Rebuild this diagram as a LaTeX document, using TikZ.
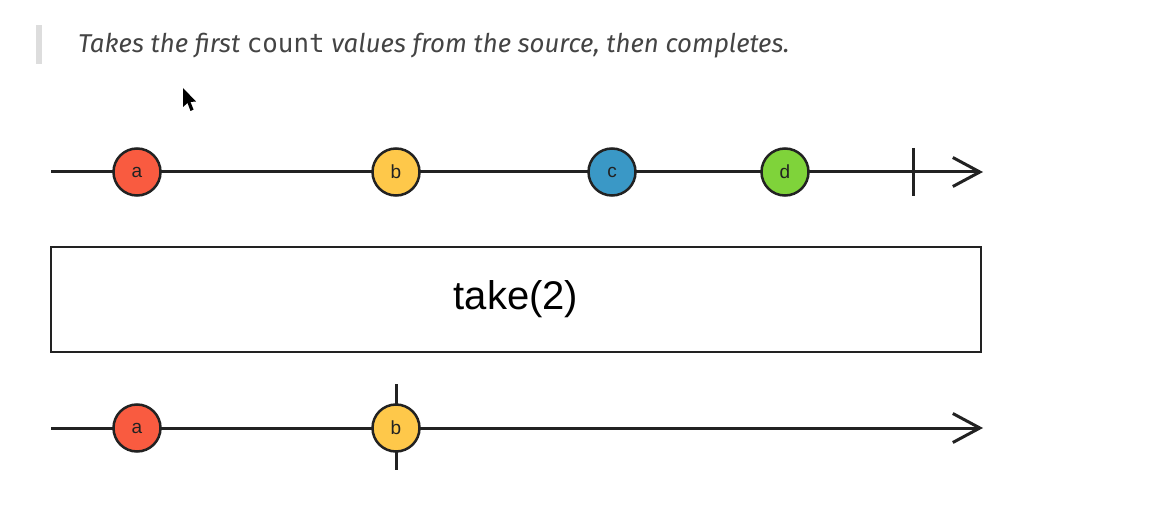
\documentclass[tikz,border=0pt]{standalone}
\usepackage{fontspec}
\setmainfont{Liberation Sans}
\newfontfamily\headfont{Fira Sans}
\newfontfamily\headmono{DejaVu Sans Mono}
\usetikzlibrary{arrows.meta}
\definecolor{cA}{HTML}{F95B40}
\definecolor{cB}{HTML}{FEC84A}
\definecolor{cC}{HTML}{3A98C6}
\definecolor{cD}{HTML}{7FD33A}
\definecolor{ink}{HTML}{222222}
\definecolor{headgrey}{HTML}{444444}
\definecolor{bargrey}{HTML}{DDDDDD}
\tikzset{
  marble/.style={circle, draw=ink, line width=2.5pt, minimum size=47pt, inner sep=0pt, font=\fontsize{19}{19}\selectfont, text=ink},
  timeline/.style={draw=ink, line width=3pt, -{Straight Barb[length=27pt,width=29pt,line width=3pt]}},
  tick/.style={draw=ink, line width=3pt},
  opbox/.style={draw=ink, line width=2.5pt, minimum width=930pt, minimum height=105pt, inner sep=0pt, font=\fontsize{40}{40}\selectfont, text=black},
}
\begin{document}
\begin{tikzpicture}[x=1pt,y=-1pt]
\useasboundingbox (0,0) rectangle (1166,505);
% header
\fill[bargrey] (36,25) rectangle (42,64);
\node[anchor=base west, inner sep=0pt, text=headgrey, font=\fontsize{25.8}{26}\selectfont\headfont\itshape] (head) at (78,53) {Takes the first {\headmono\upshape count} values from the source, then completes.};
% cursor
\fill[black] (183,88) -- (183,107) -- (187.5,103) -- (190.5,111) -- (193.5,109.5) -- (190.5,102) -- (196,101.5) -- cycle;
% top timeline
\coordinate (s1) at (51,172);
\coordinate (e1) at (983,172);
\draw[timeline] (s1) -- (e1);
\coordinate (t1a) at (913,148);
\coordinate (t1b) at (913,196);
\draw[tick] (t1a) -- (t1b);
\node[marble, fill=cA] (a1) at (137,172) {a};
\node[marble, fill=cB] (b1) at (396,172) {b};
\node[marble, fill=cC] (c1) at (612,172) {c};
\node[marble, fill=cD] (d1) at (785,172) {d};
% operator box
\node[opbox] (op) at (516,299.5) {take(2)};
% bottom timeline
\coordinate (s2) at (51,428);
\coordinate (e2) at (983,428);
\draw[timeline] (s2) -- (e2);
\coordinate (t2a) at (396,384);
\coordinate (t2b) at (396,470);
\draw[tick] (t2a) -- (t2b);
\node[marble, fill=cA] (a2) at (137,428) {a};
\node[marble, fill=cB] (b2) at (396,428) {b};
\end{tikzpicture}
\end{document}
